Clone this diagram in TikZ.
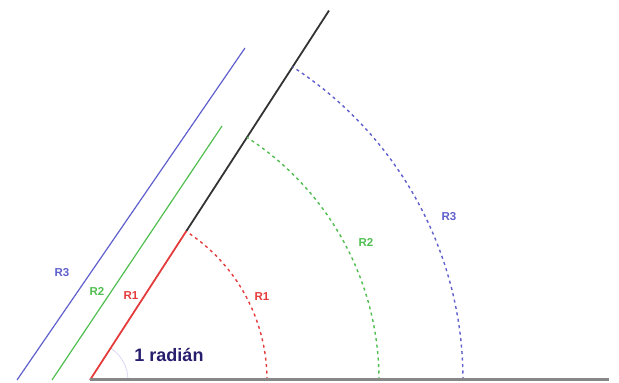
\documentclass[tikz,border=0pt]{standalone}
\usepackage{fontspec}
\setmainfont{Liberation Sans}
\usetikzlibrary{calc}
\definecolor{cred}{RGB}{228,60,60}
\definecolor{cgreen}{RGB}{80,190,80}
\definecolor{cblue}{RGB}{95,95,205}
\definecolor{cnavy}{RGB}{40,30,110}
\definecolor{cgray}{RGB}{135,135,135}
\begin{document}
\begin{tikzpicture}[x=1pt,y=1pt,
  lab/.style={font=\fontsize{11.5}{11.5}\selectfont\bfseries,inner sep=0pt},
  arcline/.style={line width=1.4pt,dash pattern=on 3pt off 3.5pt},
  side/.style={line width=1.2pt}]
\useasboundingbox (0,0) rectangle (619,383);
\def\ang{57.1}
\coordinate (O) at (90,3);
\coordinate (E) at (609,3);
\coordinate (T) at ($(O)+(\ang:440)$);
\coordinate (A1) at ($(O)+(\ang:177)$);
\coordinate (B1) at ($(O)+(177,0)$);
\coordinate (B2) at ($(O)+(289,0)$);
\coordinate (B3) at ($(O)+(373,0)$);
\coordinate (G0) at (52,3);
\coordinate (G1) at (222,257);
\coordinate (L0) at (17,3);
\coordinate (L1) at (245,335);
% faint angle mark
\draw[cblue!25,line width=0.8pt] ($(O)+(38,0)$) arc[start angle=0,end angle=\ang,radius=38];
% parallel copies
\draw[side,cblue] (L0) -- (L1);
\draw[side,cgreen] (G0) -- (G1);
% ray
\draw[line width=1.8pt,black!80] (A1) -- (T);
\draw[line width=1.8pt,cred] (O) -- (A1);
% arcs
\draw[arcline,cred] (B1) arc[start angle=0,end angle=\ang,radius=177];
\draw[arcline,cgreen] (B2) arc[start angle=0,end angle=\ang,radius=289];
\draw[arcline,cblue] (B3) arc[start angle=0,end angle=\ang,radius=373];
% base
\draw[line width=3pt,cgray] (O) -- (E);
% labels
\node[lab,text=cblue] (l3) at (62,110) {R3};
\node[lab,text=cgreen] (l2) at (97,92) {R2};
\node[lab,text=cred] (l1) at (131,87) {R1};
\node[lab,text=cred] (r1) at (262,86) {R1};
\node[lab,text=cgreen] (r2) at (366,141) {R2};
\node[lab,text=cblue] (r3) at (449,166) {R3};
\node[font=\fontsize{18}{18}\selectfont\bfseries,text=cnavy,inner sep=0pt] (rad) at (169,28) {1 radián};
\end{tikzpicture}
\end{document}
